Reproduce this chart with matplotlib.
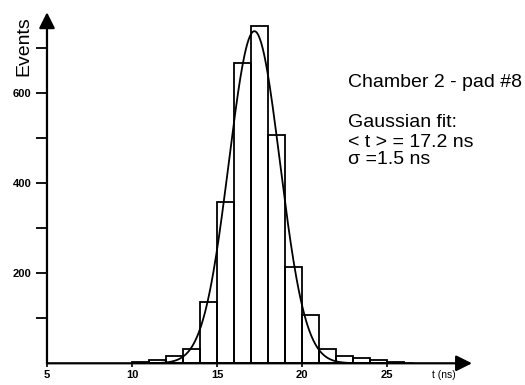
import numpy as np
import matplotlib
matplotlib.use("Agg")
import matplotlib.pyplot as plt

plt.rcParams['font.family'] = ['Liberation Sans', 'DejaVu Sans']

# data: histogram counts per 1 ns bin (left edges)
bin_left = [10, 11, 12, 13, 14, 15, 16, 17, 18, 19, 20, 21, 22, 23, 24, 25]
counts = [2, 7, 16, 32, 136, 358, 667, 750, 507, 213, 107, 32, 17, 11, 7, 3]

# gaussian fit parameters
fit_mean = 17.2
fit_sigma = 1.5
fit_amp = 738

x_ticks = [5, 10, 15, 20, 25]
y_ticks = [200, 400, 600]
y_minor = [100, 300, 500, 700]

fig = plt.figure(figsize=(5.25, 3.85), dpi=100)
ax = fig.add_axes([0.0895, 0.0564, 0.8095, 0.9117])

ax.bar(bin_left, counts, width=1.0, align='edge', fill=False,
       edgecolor='black', linewidth=1.3)

t = np.linspace(10, 26.5, 400)
g = fit_amp * np.exp(-(t - fit_mean) ** 2 / (2 * fit_sigma ** 2))
ax.plot(t, g, color='black', lw=1.3)

ax.set_xlim(5, 30)
ax.set_ylim(0, 780)

for s in ['top', 'right', 'left', 'bottom']:
    ax.spines[s].set_visible(False)

# axes with arrows
ax.annotate('', xy=(0, 1), xytext=(0, 0), xycoords='axes fraction',
            arrowprops=dict(arrowstyle='-|>', color='black', lw=1.6,
                            mutation_scale=24, shrinkA=0, shrinkB=0))
ax.annotate('', xy=(1, 0), xytext=(0, 0), xycoords='axes fraction',
            arrowprops=dict(arrowstyle='-|>', color='black', lw=1.6,
                            mutation_scale=24, shrinkA=0, shrinkB=0))

ax.set_xticks(x_ticks)
ax.set_yticks(y_ticks)
ax.set_yticks(y_minor, minor=True)
ax.tick_params(axis='y', which='both', direction='out', length=8, width=1.3,
               labelsize=8, pad=3)
ax.tick_params(axis='x', which='both', direction='out', length=3, width=1.2,
               labelsize=8, pad=2)
for lbl in ax.get_xticklabels() + ax.get_yticklabels():
    lbl.set_fontweight('bold')

fig.text(0.046, 0.88, 'Events', rotation=90, fontsize=14, ha='center', va='center')
fig.text(0.845, 0.025, 't (ns)', fontsize=7.5, ha='center', va='center')

fig.text(0.663, 0.787, 'Chamber 2 - pad #8', fontsize=14, va='center')
fig.text(0.663, 0.683, 'Gaussian fit:', fontsize=14, va='center')
fig.text(0.663, 0.631, '< t > = 17.2 ns', fontsize=14, va='center')
fig.text(0.663, 0.585, 'σ =1.5 ns', fontsize=14, va='center')

fig.savefig('out.png', dpi=100)
